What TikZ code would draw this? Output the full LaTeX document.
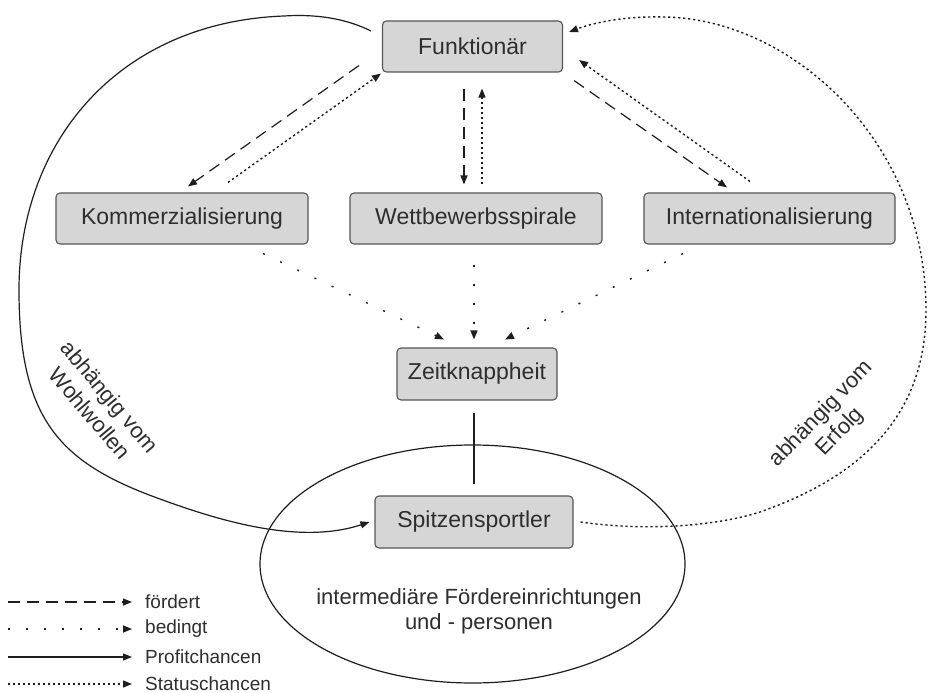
\documentclass[tikz,border=0pt]{standalone}
\usepackage{fontspec}
\setmainfont{Liberation Sans}
\usetikzlibrary{arrows.meta,shapes.geometric}
\definecolor{boxfill}{HTML}{D6D6D6}
\definecolor{boxline}{HTML}{555555}
\definecolor{txt}{HTML}{2E2E2E}
\definecolor{ln}{HTML}{1E1E1E}
\tikzset{
  stdbox/.style={draw=boxline, fill=boxfill, rounded corners=4pt, line width=1.1pt,
    minimum height=51pt, inner sep=0pt, text=txt, font=\fontsize{23}{26}\selectfont},
  conn/.style={draw=ln, line width=1.2pt, -{Triangle[length=9pt,width=7pt]}},
  foerdert/.style={conn, dash pattern=on 12pt off 7pt},
  bedingtline/.style={conn, line width=1.4pt, dash pattern=on 2pt off 17pt},
  profit/.style={conn},
  status/.style={conn, line width=1.4pt, dash pattern=on 2.2pt off 2.8pt},
  plaintext/.style={text=txt, inner sep=0pt, align=center, font=\fontsize{22}{25}\selectfont},
  curvelabel/.style={text=txt, inner sep=0pt, align=center, font=\fontsize{22}{26}\selectfont},
  legendtext/.style={text=txt, inner sep=0pt, anchor=west, font=\fontsize{19}{22}\selectfont},
}
\begin{document}
\begin{tikzpicture}[x=1pt,y=-1pt]
\useasboundingbox (0,0) rectangle (929,693);
\fill[white] (0,0) rectangle (929,693);

% ellipse
\node[draw=ln, line width=1.2pt, ellipse, minimum width=425pt, minimum height=238pt, inner sep=0pt] (E) at (472.5,564) {};
\node[plaintext] (Etext) at (479,611) {intermediäre Fördereinrichtungen\\und - personen};

% boxes
\node[stdbox, minimum width=180pt] (F) at (472.5,46.5) {Funktionär};
\node[stdbox, minimum width=252pt] (K) at (182,218.5) {Kommerzialisierung};
\node[stdbox, minimum width=252pt] (W) at (476,218.5) {Wettbewerbsspirale};
\node[stdbox, minimum width=251pt] (I) at (769.5,218.5) {Internationalisierung};
\node[stdbox, minimum width=160pt, minimum height=52pt] (Z) at (477,374) {Zeitknappheit};
\node[stdbox, minimum width=198pt, minimum height=52pt] (S) at (474,522) {Spitzensportler};

% Funktionaer <-> top row
\draw[foerdert] ([shift={(-23,-7)}]F.south west) -- ([shift={(6,-6)}]K.north);
\draw[status] ([shift={(46,-10)}]K.north) -- ([shift={(-1,1)}]F.south west);
\draw[foerdert] ([shift={(-8.5,16)}]F.south) -- ([shift={(-12,-8)}]W.north);
\draw[status] ([shift={(6,-8)}]W.north) -- ([shift={(9.5,16)}]F.south);
\draw[foerdert] ([shift={(11,8)}]F.south east) -- ([shift={(-42.5,-5)}]I.north);
\draw[status] ([shift={(-19.5,-11)}]I.north) -- ([shift={(16,13.5)}]F.east);

% top row -> Zeitknappheit
\draw[bedingtline] ([shift={(81,9)}]K.south) -- ([shift={(-33,-8)}]Z.north);
\draw[bedingtline] ([shift={(-2,20)}]W.south) -- ([shift={(-3,-8)}]Z.north);
\draw[bedingtline] ([shift={(-86.5,9)}]I.south) -- ([shift={(28,-8)}]Z.north);

% Zeitknappheit - Spitzensportler
\draw[draw=ln, line width=1.2pt] ([shift={(-3,12)}]Z.south) -- ([shift={(0,-11)}]S.north);

% big left curve (Profitchancen)
\draw[profit] ([shift={(-11,-15.5)}]F.west)
  .. controls (345,18) and (315,14) .. (284,16)
  .. controls (120,22) and (19,140) .. (19,290)
  .. controls (19,420) and (60,463) .. (160,499)
  .. controls (220,521) and (300,545) .. ([shift={(-5,0)}]S.west);

% big right curve (Statuschancen)
\draw[status] ([shift={(7,0)}]S.east)
  .. controls (650,532) and (720,525) .. (760,512)
  .. controls (880,470) and (926,400) .. (926,310)
  .. controls (926,140) and (790,18) .. (663,17)
  .. controls (620,16) and (590,24) .. ([shift={(6,-14.5)}]F.east);

% curve labels
\node[curvelabel, rotate=-50] (lblL) at (100,405) {abhängig vom\\Wohlwollen};
\node[curvelabel, rotate=46] (lblR) at (831,423) {abhängig vom\\Erfolg};

% legend
\coordinate (la1) at (8,602);   \coordinate (lb1) at (132,602);
\coordinate (la2) at (8,629);   \coordinate (lb2) at (132,629);
\coordinate (la3) at (8,657);   \coordinate (lb3) at (132,657);
\coordinate (la4) at (8,684);   \coordinate (lb4) at (132,684);
\draw[foerdert] (la1) -- (lb1);
\draw[bedingtline, dash pattern=on 2pt off 16pt] (la2) -- (lb2);
\draw[profit] (la3) -- (lb3);
\draw[status] (la4) -- (lb4);
\node[legendtext] (t1) at (145,602) {fördert};
\node[legendtext] (t2) at (145,629) {bedingt};
\node[legendtext] (t3) at (145,657) {Profitchancen};
\node[legendtext] (t4) at (145,684) {Statuschancen};
\end{tikzpicture}
\end{document}
